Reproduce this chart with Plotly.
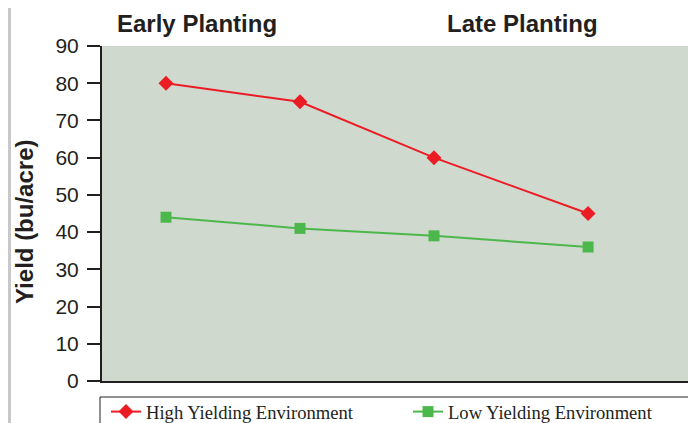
import plotly.graph_objects as go

# Data
planting_time = [1, 2, 3, 4.15]
high_yield = [80, 75, 60, 45]
low_yield = [44, 41, 39, 36]
series_names = ["High Yielding Environment", "Low Yielding Environment"]
y_ticks = [0, 10, 20, 30, 40, 50, 60, 70, 80, 90]

W, H = 696, 423
OFF = 8  # page body margin
L, T = 102 - OFF, 46 - OFF
R = W - (693 - OFF)
B = H - (381 - OFF)
pw = W - L - R
ph = H - T - B

def px_x(p):
    return (p - OFF - L) / pw

def px_y(p):
    return (H - B - (p - OFF)) / ph

fig = go.Figure()
fig.add_trace(go.Scatter(
    x=planting_time, y=high_yield, name=series_names[0], mode="lines+markers",
    line=dict(color="#ec1c24", width=2),
    marker=dict(symbol="diamond", size=11.5, color="#ec1c24"),
    legend="legend",
))
fig.add_trace(go.Scatter(
    x=planting_time, y=low_yield, name=series_names[1], mode="lines+markers",
    line=dict(color="#4cb84c", width=2),
    marker=dict(symbol="square", size=11, color="#4cb84c"),
    legend="legend2",
))

legend_font = dict(family="Liberation Serif, Times New Roman", size=18.6, color="#231f20")

fig.update_layout(
    width=W, height=H,
    margin=dict(l=L, r=R, t=T, b=B, pad=0, autoexpand=False),
    paper_bgcolor="white",
    plot_bgcolor="#d0d9ce",
    font=dict(family="Liberation Sans, Arial", color="#231f20"),
    showlegend=True,
    legend=dict(
        orientation="h", x=px_x(106), y=px_y(393), xanchor="left", yanchor="top",
        font=legend_font, bgcolor="rgba(0,0,0,0)",
    ),
    legend2=dict(
        orientation="h", x=px_x(408), y=px_y(393), xanchor="left", yanchor="top",
        font=legend_font, bgcolor="rgba(0,0,0,0)",
    ),
    xaxis=dict(
        range=[0.5224, 4.933], showgrid=False, zeroline=False, showticklabels=False,
        ticks="", showline=True, linecolor="#231f20", linewidth=2, fixedrange=True,
    ),
    yaxis=dict(
        range=[0, 90], tickvals=y_ticks, showgrid=False, zeroline=False,
        ticks="outside", ticklen=13, tickwidth=1.5, tickcolor="#231f20",
        ticklabelstandoff=4,
        showline=True, linecolor="#231f20", linewidth=2,
        tickfont=dict(size=21, family="Liberation Sans, Arial", color="#231f20"),
    ),
    annotations=[
        dict(text="<b>Early Planting</b>", xref="paper", yref="paper",
             x=px_x(197), y=px_y(23), xanchor="center", yanchor="middle",
             showarrow=False, font=dict(size=24, color="#231f20")),
        dict(text="<b>Late Planting</b>", xref="paper", yref="paper",
             x=px_x(522), y=px_y(23), xanchor="center", yanchor="middle",
             showarrow=False, font=dict(size=24, color="#231f20")),
        dict(text="<b>Yield (bu/acre)</b>", xref="paper", yref="paper",
             x=px_x(24), y=px_y(222), xanchor="center", yanchor="middle",
             textangle=-90, showarrow=False, font=dict(size=24, color="#231f20")),
    ],
    shapes=[
        dict(type="line", xref="paper", yref="paper", x0=px_x(9.5), x1=px_x(9.5),
             y0=px_y(0), y1=px_y(440), line=dict(color="#c8c8c8", width=3)),
        dict(type="rect", xref="paper", yref="paper", x0=px_x(100), x1=px_x(693),
             y0=px_y(397), y1=px_y(440), line=dict(color="#231f20", width=1)),
    ],
)

fig.write_html("out.html")
